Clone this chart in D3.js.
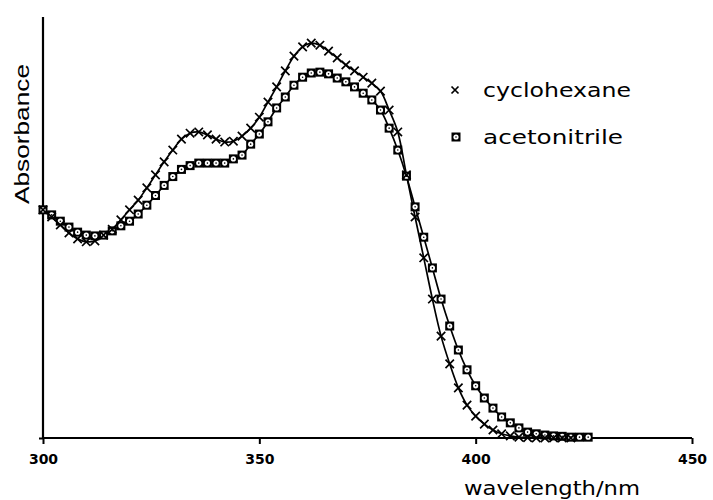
<!DOCTYPE html>
<html>
<head>
<meta charset="utf-8">
<script src="https://cdn.jsdelivr.net/npm/d3@7"></script>
<style>
  html, body { margin: 0; padding: 0; background: #fff; }
  svg { display: block; }
</style>
</head>
<body>
<svg id="chart" width="713" height="500"></svg>
<script>
// Wavelength grid (nm), one reading every 2 nm
const wlCyclohexane = d3.range(300, 423, 2);
const wlAcetonitrile = d3.range(300, 427, 2);

// Relative absorbance, cyclohexane solution
const absCyclohexane = [
  0.542, 0.525, 0.506, 0.487, 0.473, 0.466, 0.468, 0.482, 0.496, 0.518,
  0.542, 0.565, 0.594, 0.625, 0.656, 0.684, 0.710, 0.724, 0.727, 0.720,
  0.710, 0.703, 0.705, 0.717, 0.736, 0.762, 0.798, 0.834, 0.872, 0.907,
  0.929, 0.938, 0.933, 0.919, 0.903, 0.886, 0.872, 0.857, 0.843, 0.824,
  0.779, 0.727, 0.625, 0.525, 0.428, 0.330, 0.242, 0.176, 0.119, 0.078,
  0.052, 0.033, 0.019, 0.010, 0.005, 0.002, 0.001, 0.000, 0.000, 0.000,
  0.000, 0.000
];

// Relative absorbance, acetonitrile solution
const absAcetonitrile = [
  0.542, 0.530, 0.515, 0.501, 0.489, 0.482, 0.480, 0.482, 0.492, 0.504,
  0.515, 0.532, 0.553, 0.576, 0.600, 0.621, 0.638, 0.647, 0.653, 0.653,
  0.653, 0.653, 0.663, 0.672, 0.698, 0.722, 0.751, 0.784, 0.810, 0.838,
  0.857, 0.867, 0.869, 0.865, 0.855, 0.846, 0.834, 0.819, 0.803, 0.779,
  0.736, 0.684, 0.622, 0.549, 0.477, 0.404, 0.330, 0.266, 0.209, 0.162,
  0.124, 0.095, 0.071, 0.050, 0.036, 0.024, 0.014, 0.010, 0.007, 0.005,
  0.004, 0.002, 0.002, 0.002
];

const xTicks = [300, 350, 400, 450];
const seriesNames = ["cyclohexane", "acetonitrile"];

const svg = d3.select("#chart");
const plotLeft = 43, plotRight = 692, plotTop = 17, plotBottom = 438;

const x = d3.scaleLinear().domain([300, 450]).range([plotLeft, plotRight]);
const y = d3.scaleLinear().domain([0, 1]).range([plotBottom, plotTop]);

const cyc = wlCyclohexane.map((w, i) => ({ w, a: absCyclohexane[i] }));
const acn = wlAcetonitrile.map((w, i) => ({ w, a: absAcetonitrile[i] }));

// Axes
const xAxis = d3.axisBottom(x).tickValues(xTicks).tickSize(6).tickPadding(10)
  .tickFormat(d3.format("d"));
const gx = svg.append("g").attr("transform", `translate(0,${plotBottom})`).call(xAxis);
gx.select(".domain").attr("d", `M${plotLeft},0H${plotRight}`).attr("stroke", "#000").attr("stroke-width", 2.2);
gx.selectAll(".tick line").attr("stroke", "#000").attr("stroke-width", 2);
gx.selectAll(".tick text")
  .attr("fill", "#000")
  .style("font-family", "'DejaVu Sans', sans-serif")
  .style("font-weight", "bold")
  .style("font-size", "14px");

const yAxis = d3.axisLeft(y).tickValues([0]).tickSize(4).tickFormat("");
const gy = svg.append("g").attr("transform", `translate(${plotLeft},0)`).call(yAxis);
gy.select(".domain").attr("d", `M0,${plotTop}V${plotBottom}`).attr("stroke", "#000").attr("stroke-width", 2.2);
gy.selectAll(".tick line").attr("stroke", "#000").attr("stroke-width", 2);

// Axis titles
svg.append("text")
  .attr("x", 552).attr("y", 495)
  .attr("text-anchor", "middle")
  .attr("textLength", 176).attr("lengthAdjust", "spacingAndGlyphs")
  .style("font-family", "'DejaVu Sans', sans-serif")
  .style("font-size", "19px")
  .text("wavelength/nm");

svg.append("text")
  .attr("transform", "translate(29,134) rotate(-90)")
  .attr("text-anchor", "middle")
  .attr("textLength", 140).attr("lengthAdjust", "spacingAndGlyphs")
  .style("font-family", "'Liberation Sans', Arial, sans-serif")
  .style("font-size", "21px")
  .text("Absorbance");

// Curves
const line = d3.line().x(d => x(d.w)).y(d => y(d.a)).curve(d3.curveCatmullRom.alpha(0.5));

svg.append("path").datum(acn).attr("d", line)
  .attr("fill", "none").attr("stroke", "#000").attr("stroke-width", 1.7);
svg.append("path").datum(cyc).attr("d", line)
  .attr("fill", "none").attr("stroke", "#000").attr("stroke-width", 1.7);

// Square markers (acetonitrile)
function drawSquare(g, cx, cy) {
  g.append("rect").attr("x", cx - 4.5).attr("y", cy - 4.5)
    .attr("width", 9).attr("height", 9).attr("fill", "#000");
  g.append("circle").attr("cx", cx).attr("cy", cy).attr("r", 2.6).attr("fill", "#fff");
  g.append("circle").attr("cx", cx).attr("cy", cy).attr("r", 0.8).attr("fill", "#000");
}
// Cross markers (cyclohexane)
function drawCross(g, cx, cy, s) {
  g.append("path")
    .attr("d", `M${cx - s},${cy - s}L${cx + s},${cy + s}M${cx - s},${cy + s}L${cx + s},${cy - s}`)
    .attr("stroke", "#000").attr("stroke-width", 1.7).attr("fill", "none");
}

const gSq = svg.append("g");
acn.forEach(d => drawSquare(gSq, x(d.w), y(d.a)));
const gCr = svg.append("g");
cyc.forEach(d => drawCross(gCr, x(d.w), y(d.a), 4.2));

// Legend
const lg = svg.append("g");
drawCross(lg, 455, 90, 3.5);
drawSquare(lg, 456, 137);
lg.append("text").attr("x", 483).attr("y", 97)
  .attr("textLength", 148).attr("lengthAdjust", "spacingAndGlyphs")
  .style("font-family", "'DejaVu Sans', sans-serif").style("font-size", "20px")
  .text(seriesNames[0]);
lg.append("text").attr("x", 483).attr("y", 144)
  .attr("textLength", 140).attr("lengthAdjust", "spacingAndGlyphs")
  .style("font-family", "'DejaVu Sans', sans-serif").style("font-size", "20px")
  .text(seriesNames[1]);
</script>
</body>
</html>
